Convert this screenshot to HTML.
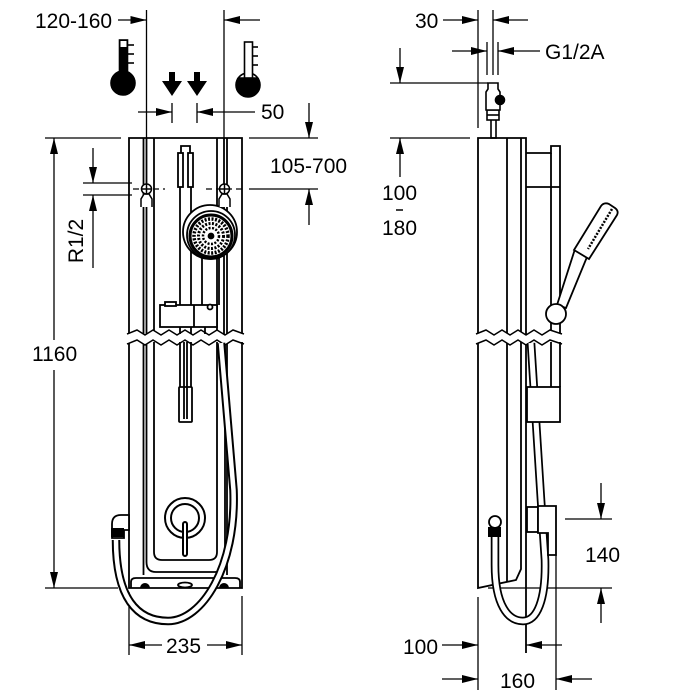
<!DOCTYPE html>
<html><head><meta charset="utf-8"><style>
html,body{margin:0;padding:0;background:#fff;}
svg{display:block;}
text{font-family:"Liberation Sans",Arial,sans-serif;font-size:21px;fill:#000;}
</style></head><body>
<svg width="700" height="700" viewBox="0 0 700 700" xmlns="http://www.w3.org/2000/svg">
<defs>
<marker id="a" viewBox="0 0 16 8" refX="16" refY="4" markerWidth="16" markerHeight="8" orient="auto" markerUnits="userSpaceOnUse">
<path d="M0,0 L16,4 L0,8 z" fill="#000"/></marker>
</defs>
<rect width="700" height="700" fill="#fff"/>

<!-- ============ FRONT VIEW ============ -->
<g stroke="#000" stroke-width="1.3" fill="none">
<line x1="146.5" y1="10" x2="146.5" y2="138"/>
<line x1="224" y1="10" x2="224" y2="138"/>
<line x1="118" y1="20" x2="146.5" y2="20" marker-end="url(#a)"/>
<line x1="260" y1="20" x2="224" y2="20" marker-end="url(#a)"/>
<line x1="172" y1="103" x2="172" y2="123"/>
<line x1="197" y1="103" x2="197" y2="123"/>
<line x1="138" y1="112" x2="172" y2="112" marker-end="url(#a)"/>
<line x1="255" y1="112" x2="197" y2="112" marker-end="url(#a)"/>
<line x1="249" y1="138" x2="318" y2="138"/>
<line x1="249" y1="189" x2="318" y2="189"/>
<line x1="309" y1="103" x2="309" y2="138" marker-end="url(#a)"/>
<line x1="309" y1="225" x2="309" y2="189" marker-end="url(#a)"/>
<line x1="45" y1="138" x2="121" y2="138"/>
<line x1="45" y1="588" x2="118" y2="588"/>
<line x1="54" y1="340" x2="54" y2="138" marker-end="url(#a)"/>
<line x1="54" y1="370" x2="54" y2="588" marker-end="url(#a)"/>
<line x1="83" y1="183" x2="132" y2="183"/>
<line x1="83" y1="195" x2="132" y2="195"/>
<line x1="93" y1="148" x2="93" y2="183" marker-end="url(#a)"/>
<line x1="93" y1="268" x2="93" y2="195" marker-end="url(#a)"/>
<line x1="129" y1="592" x2="129" y2="655"/>
<line x1="242" y1="596" x2="242" y2="655"/>
<line x1="162" y1="645" x2="129" y2="645" marker-end="url(#a)"/>
<line x1="207" y1="645" x2="242" y2="645" marker-end="url(#a)"/>
<line x1="133" y1="189" x2="165" y2="189" stroke-dasharray="6 4"/>
<line x1="206" y1="189" x2="243" y2="189" stroke-dasharray="6 4"/>
</g>

<text x="35" y="28">120-160</text>
<text x="261" y="119">50</text>
<text x="270" y="173">105-700</text>
<text x="32" y="361">1160</text>
<text x="166" y="653">235</text>
<text transform="translate(83,241) rotate(-90)" text-anchor="middle">R1/2</text>

<!-- thermometers -->
<g stroke="#000" stroke-width="1.6">
<rect x="119.5" y="40" width="8" height="40" fill="#000"/>
<rect x="120.5" y="41" width="6" height="6" fill="#fff" stroke="none"/>
<circle cx="123" cy="83" r="12" fill="#000"/>
<line x1="128" y1="45" x2="134" y2="45"/><line x1="128" y1="54" x2="134" y2="54"/><line x1="128" y1="63" x2="134" y2="63"/>
<circle cx="248" cy="85" r="12" fill="#000"/>
<path d="M238.3,78 A12,12 0 0 1 257.7,78 Z" fill="#fff"/>
<rect x="244.5" y="42" width="8" height="36" fill="#fff"/>
<line x1="252.5" y1="47" x2="258" y2="47"/><line x1="252.5" y1="56" x2="258" y2="56"/><line x1="252.5" y1="65" x2="258" y2="65"/>
</g>
<path d="M169,72 h6 v9 h7 l-10,15 l-10,-15 h7 z" fill="#000"/>
<path d="M194,72 h6 v9 h7 l-10,15 l-10,-15 h7 z" fill="#000"/>

<!-- front panel -->
<g stroke="#000" stroke-width="1.8" fill="none">
<path d="M129,334 L129,138 L242,138 L242,334"/>
<path d="M129,342 L129,588 L242,588 L242,342"/>
<line x1="143.5" y1="138" x2="143.5" y2="334"/>
<line x1="146.5" y1="138" x2="146.5" y2="334"/>
<line x1="154" y1="138" x2="154" y2="334"/>
<line x1="217" y1="138" x2="217" y2="334"/>
<line x1="224" y1="138" x2="224" y2="334"/>
<line x1="227" y1="138" x2="227" y2="334"/>
<path d="M143.5,342 L143.5,575"/>
<path d="M146.5,342 L146.5,562 Q146.5,572 156,572 L215,572 Q225,572 225,562 L225,342"/>
<path d="M154,342 L154,552 Q154,560 162,560 L209,560 Q217,560 217,552 L217,342"/>
<line x1="227" y1="342" x2="227" y2="575"/>
<path d="M131,588 L131,582 Q131,578 136,578 L235,578 Q240,578 240,582 L240,588"/>
<ellipse cx="185" cy="585" rx="7" ry="2.5"/>
</g>
<path d="M140,588 A5,5 0 0 1 150,588 Z" fill="#000"/>
<path d="M219,588 A5,5 0 0 1 229,588 Z" fill="#000"/>

<!-- break waves front -->
<g stroke="#000" stroke-width="1.5" fill="#fff">
<path d="M127,334 L137,330 L145,335 L153,330 L161,335 L169,330 L177,335 L185,330 L193,335 L201,330 L209,335 L217,330 L225,335 L233,330 L244,334 L244,341 L233,340 L225,345 L217,340 L209,345 L201,340 L193,345 L185,340 L177,345 L169,340 L161,345 L153,340 L145,345 L137,340 L127,344 Z" stroke="none"/>
<path d="M127,334 L137,330 L145,335 L153,330 L161,335 L169,330 L177,335 L185,330 L193,335 L201,330 L209,335 L217,330 L225,335 L233,330 L244,334" fill="none"/>
<path d="M127,344 L137,340 L145,345 L153,340 L161,345 L169,340 L177,345 L185,340 L193,345 L201,340 L209,345 L217,340 L225,345 L233,340 L244,344" fill="none"/>
</g>

<g stroke="#000" stroke-width="1.8" fill="#fff">
<path d="M181,153 L181,146 L190,146 L190,153" fill="none"/>
<line x1="180" y1="187" x2="180" y2="305"/>
<line x1="191" y1="187" x2="191" y2="305"/>
<rect x="178" y="153" width="5" height="34"/>
<rect x="188" y="153" width="5" height="34"/>
<line x1="202" y1="255" x2="202" y2="305"/>
<line x1="219" y1="255" x2="219" y2="305"/>
<circle cx="210" cy="232" r="27"/>
<circle cx="211" cy="235" r="24"/>
<circle cx="211" cy="236" r="21" stroke-width="3"/>
<circle cx="211" cy="236" r="17" fill="none" stroke-width="3.5" stroke-dasharray="2 1.5"/>
<circle cx="211" cy="236" r="12.5" fill="none" stroke-width="3" stroke-dasharray="2 1.5"/>
<circle cx="211" cy="236" r="8" fill="none" stroke-width="2.5" stroke-dasharray="2 1.5"/>
<circle cx="211" cy="236" r="2.5" fill="#000"/>
<rect x="160" y="305" width="57" height="22"/>
<line x1="194" y1="305" x2="194" y2="327"/>
<rect x="165" y="302" width="11" height="4"/>
<circle cx="210" cy="307" r="2.5"/>
<line x1="180" y1="327" x2="180" y2="334"/>
<line x1="191" y1="327" x2="191" y2="334"/>
<line x1="205" y1="327" x2="205" y2="334"/>
<rect x="179" y="387" width="13" height="35" rx="1"/>
<line x1="184" y1="342" x2="184" y2="419"/>
<line x1="187" y1="342" x2="187" y2="419"/>
<line x1="180" y1="342" x2="180" y2="387"/>
<line x1="191" y1="342" x2="191" y2="387"/>
</g>

<g stroke="#000" stroke-width="1.5" fill="#fff">
<path d="M141,207 L141,199 L144,194 L149,194 L152,199 L152,207"/>
<circle cx="146.5" cy="189" r="5"/>
<line x1="141.5" y1="189" x2="151.5" y2="189"/><line x1="146.5" y1="184" x2="146.5" y2="194"/>
<path d="M219,207 L219,199 L222,194 L227,194 L230,199 L230,207"/>
<circle cx="224.5" cy="189" r="5"/>
<line x1="219.5" y1="189" x2="229.5" y2="189"/><line x1="224.5" y1="184" x2="224.5" y2="194"/>
</g>

<g stroke="#000" stroke-width="2" fill="#fff">
<circle cx="185" cy="518" r="20"/>
<circle cx="185" cy="518" r="14"/>
<rect x="183" y="522" width="4" height="34" rx="2"/>
</g>

<path d="M221,343 L233.5,490 C236.5,567 202,621 168,621 C137,621 116,598 116,540" fill="none" stroke="#000" stroke-width="8.5"/>
<path d="M221,343 L233.5,490 C236.5,567 202,621 168,621 C137,621 116,598 116,540" fill="none" stroke="#fff" stroke-width="4.5"/>
<path d="M112,538 L112,524 Q112,515 121,515 L129,515 L129,530 L124,530 L124,538 Z" fill="#fff" stroke="#000" stroke-width="1.8"/>
<rect x="111" y="528" width="13" height="9" fill="#000"/>

<!-- ============ SIDE VIEW ============ -->
<g stroke="#000" stroke-width="1.3" fill="none">
<line x1="478" y1="10" x2="478" y2="128"/>
<line x1="493" y1="10" x2="493" y2="75"/>
<line x1="443" y1="20" x2="478" y2="20" marker-end="url(#a)"/>
<line x1="528" y1="20" x2="493" y2="20" marker-end="url(#a)"/>
<line x1="487" y1="42" x2="487" y2="75"/>
<line x1="498" y1="42" x2="498" y2="75"/>
<line x1="452" y1="51" x2="487" y2="51" marker-end="url(#a)"/>
<line x1="540" y1="51" x2="498" y2="51" marker-end="url(#a)"/>
<line x1="390" y1="83" x2="488" y2="83"/>
<line x1="390" y1="138" x2="470" y2="138"/>
<line x1="400" y1="48" x2="400" y2="83" marker-end="url(#a)"/>
<line x1="400" y1="177" x2="400" y2="138" marker-end="url(#a)"/>
<line x1="565" y1="519" x2="612" y2="519"/>
<line x1="488" y1="588" x2="612" y2="588"/>
<line x1="601" y1="483" x2="601" y2="519" marker-end="url(#a)"/>
<line x1="601" y1="623" x2="601" y2="588" marker-end="url(#a)"/>
<line x1="478" y1="597" x2="478" y2="690"/>
<line x1="556" y1="555" x2="556" y2="690"/>
<line x1="442" y1="645" x2="478" y2="645" marker-end="url(#a)"/>
<line x1="562" y1="645" x2="526" y2="645" marker-end="url(#a)"/>
<line x1="442" y1="679" x2="478" y2="679" marker-end="url(#a)"/>
<line x1="592" y1="679" x2="556" y2="679" marker-end="url(#a)"/>
</g>
<text x="415" y="28">30</text>
<text x="545" y="59">G1/2A</text>
<text x="382" y="200">100</text>
<line x1="396" y1="210" x2="403" y2="210" stroke="#000" stroke-width="1.5"/>
<text x="382" y="235">180</text>
<text x="585" y="562">140</text>
<text x="403" y="654">100</text>
<text x="500" y="688">160</text>

<g stroke="#000" stroke-width="1.6" fill="#fff">
<rect x="491" y="118" width="5" height="20"/>
<rect x="487" y="110" width="12" height="10"/>
<line x1="487" y1="115" x2="499" y2="115"/>
<path d="M486,110 L486,92 L488,89 L488,83 L498,83 L498,89 L500,92 L500,110 Z"/>
<circle cx="500" cy="100" r="4.5" fill="#000"/>
</g>

<g stroke="#000" stroke-width="1.8" fill="none">
<path d="M478,334 L478,138 L526,138 L526,334"/>
<line x1="507" y1="138" x2="507" y2="334"/>
<line x1="521" y1="138" x2="521" y2="334"/>
<path d="M526,153 L551,153 L551,146 L560,146 L560,334"/>
<line x1="551" y1="153" x2="551" y2="334"/>
<line x1="526" y1="187" x2="560" y2="187"/>
<path d="M478,342 L478,588 L516,580 L521,569 L521,342"/>
<line x1="507" y1="342" x2="507" y2="582"/>
<line x1="526" y1="342" x2="526" y2="653"/>
<line x1="551" y1="342" x2="551" y2="387"/>
<line x1="560" y1="342" x2="560" y2="387"/>
</g>

<g stroke="#000" stroke-width="1.8" fill="#fff">
<path d="M557,305 L575,249 L587,257 L566,308 Z"/>
<path d="M574,250 L601,206 Q604,202 609,204 L615,208 Q619,211 617,215 L589,259 Z"/>
<line x1="612" y1="209" x2="588" y2="249" stroke-width="2.5" stroke-dasharray="2 1.5"/>
<circle cx="556" cy="314" r="10"/>
</g>

<g stroke="#000" stroke-width="1.5">
<path d="M476,334 L486,330 L494,335 L502,330 L510,335 L518,330 L526,335 L534,330 L542,335 L550,330 L562,334 L562,341 L550,340 L542,345 L534,340 L526,345 L518,340 L510,345 L502,340 L494,345 L486,340 L476,344 Z" fill="#fff" stroke="none"/>
<path d="M476,334 L486,330 L494,335 L502,330 L510,335 L518,330 L526,335 L534,330 L542,335 L550,330 L562,334" fill="none"/>
<path d="M476,344 L486,340 L494,345 L502,340 L510,345 L518,340 L526,345 L534,340 L542,345 L550,340 L562,344" fill="none"/>
</g>

<path d="M531,343 L541,500 L545,560 C546,600 537,621 523,621 C508,621 495,605 495,565 L495,537" fill="none" stroke="#000" stroke-width="8.5"/>
<path d="M531,343 L541,500 L545,560 C546,600 537,621 523,621 C508,621 495,605 495,565 L495,537" fill="none" stroke="#fff" stroke-width="5"/>

<g stroke="#000" stroke-width="1.8" fill="#fff">
<rect x="527" y="387" width="33" height="35"/>
<rect x="527" y="507" width="11" height="25"/>
<path d="M538,506 L556,506 L556,555 L548,555 L548,533 L538,533 Z"/>
<circle cx="495" cy="522" r="6"/>
</g>
<rect x="488" y="527" width="13" height="10" fill="#000"/>
</svg>
</body></html>
